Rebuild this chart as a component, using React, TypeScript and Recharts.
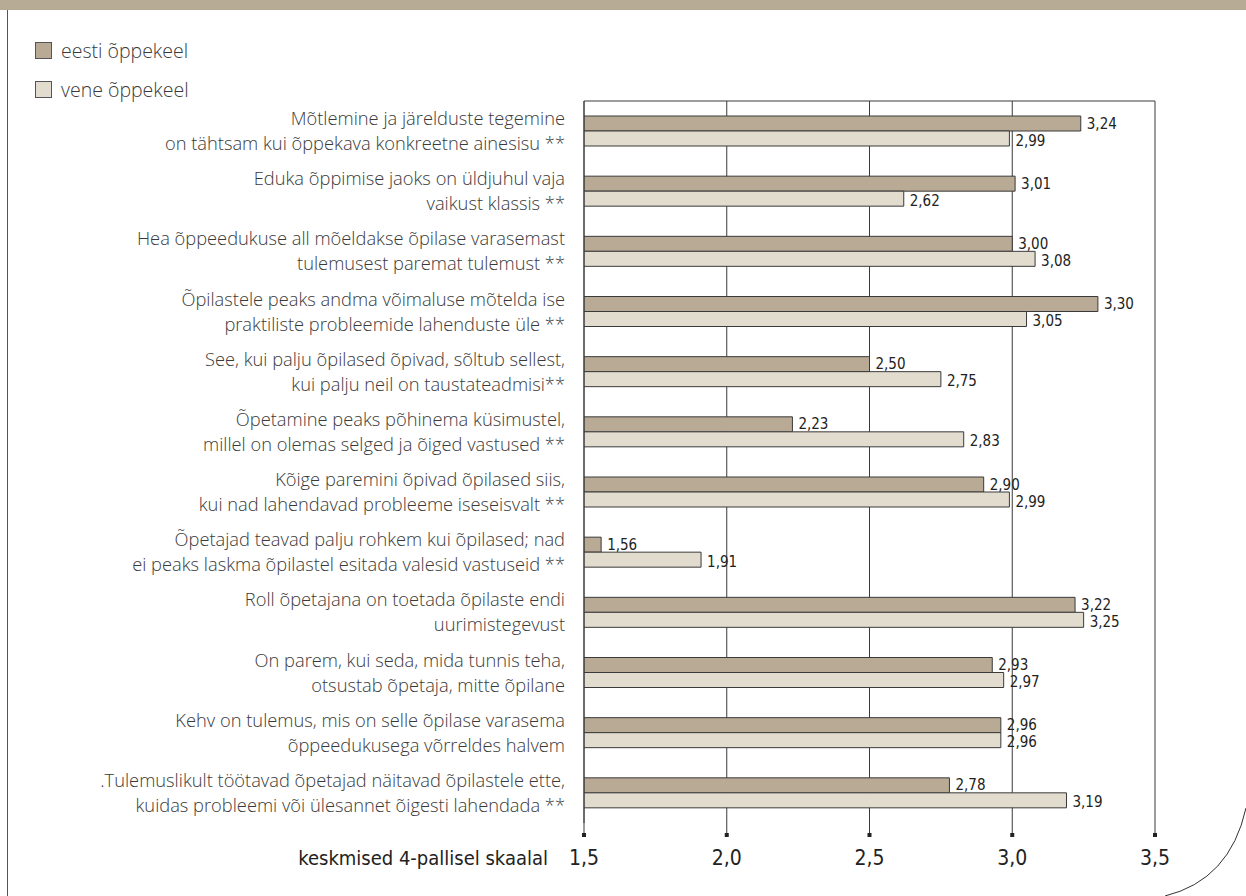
import { BarChart, Bar, XAxis, YAxis, CartesianGrid, LabelList } from "recharts"

const categories = [
  "Mõtlemine ja järelduste tegemine|on tähtsam kui õppekava konkreetne ainesisu **",
  "Eduka õppimise jaoks on üldjuhul vaja|vaikust klassis **",
  "Hea õppeedukuse all mõeldakse õpilase varasemast|tulemusest paremat tulemust **",
  "Õpilastele peaks andma võimaluse mõtelda ise|praktiliste probleemide lahenduste üle **",
  "See, kui palju õpilased õpivad, sõltub sellest,|kui palju neil on taustateadmisi**",
  "Õpetamine peaks põhinema küsimustel,|millel on olemas selged ja õiged vastused **",
  "Kõige paremini õpivad õpilased siis,|kui nad lahendavad probleeme iseseisvalt **",
  "Õpetajad teavad palju rohkem kui õpilased; nad|ei peaks laskma õpilastel esitada valesid vastuseid **",
  "Roll õpetajana on toetada õpilaste endi|uurimistegevust",
  "On parem, kui seda, mida tunnis teha,|otsustab õpetaja, mitte õpilane",
  "Kehv on tulemus, mis on selle õpilase varasema|õppeedukusega võrreldes halvem",
  ".Tulemuslikult töötavad õpetajad näitavad õpilastele ette,|kuidas probleemi või ülesannet õigesti lahendada **",
]

const eesti = [3.24, 3.01, 3.0, 3.3, 2.5, 2.23, 2.9, 1.56, 3.22, 2.93, 2.96, 2.78]
const vene = [2.99, 2.62, 3.08, 3.05, 2.75, 2.83, 2.99, 1.91, 3.25, 2.97, 2.96, 3.19]

const xTicks = [1.5, 2.0, 2.5, 3.0, 3.5]

const seriesNames = ["eesti õppekeel", "vene õppekeel"]

const data = categories.map((name, i) => ({ name, eesti: eesti[i], vene: vene[i] }))

const COL_EESTI = "#b8aa94"
const COL_VENE = "#e2dccf"
const LINE = "#3a3a3a"
const TEXT = "#3a3a3a"
const LABEL_FONT = "'Open Sans', 'Noto Sans', sans-serif"
const NARROW_FONT = "'Liberation Sans Narrow', 'DejaVu Sans Condensed', 'Roboto', sans-serif"

const fmt = (v: number) => v.toFixed(2).replace(".", ",")

// two-line category label, right aligned against the axis
function CategoryTick(props: any) {
  const { x, y, payload } = props
  const lines = String(payload.value).split("|")
  return (
    <text x={x} y={y - 6} textAnchor="end" fontFamily={LABEL_FONT} fontWeight={300} fontSize={18.3} fill={TEXT}>
      <tspan x={x} dy={0}>{lines[0]}</tspan>
      <tspan x={x} dy={25}>{lines[1]}</tspan>
    </text>
  )
}

function ValueTick(props: any) {
  const { x, y, payload } = props
  return (
    <g>
      <rect x={x - 2} y={y - 2} width={4} height={4} fill="#222" />
      <text x={x} y={y + 23} textAnchor="middle" dominantBaseline="central" fontFamily={NARROW_FONT} fontSize={21} fill="#222">
        {String(payload.value.toFixed(1)).replace(".", ",")}
      </text>
    </g>
  )
}

function AxisTitle(props: any) {
  const { viewBox } = props
  return (
    <text x={viewBox.x - 36} y={viewBox.y + 35} textAnchor="end" dominantBaseline="central" fontFamily={NARROW_FONT} fontSize={20} fill="#222">
      keskmised 4-pallisel skaalal
    </text>
  )
}

function makeValueLabel(dy: number) {
  return (props: any) => {
    const { x, y, width, height, value } = props
    return (
      <text x={x + width + 6} y={y + height / 2 + dy} dominantBaseline="central" fontFamily={NARROW_FONT} fontSize={15} fill="#222">
        {fmt(value)}
      </text>
    )
  }
}

function LegendBox() {
  const cols = [COL_EESTI, COL_VENE]
  return (
    <div style={{ position: "absolute", left: 35, top: 31, fontFamily: LABEL_FONT, fontWeight: 300, fontSize: 19.5, color: TEXT }}>
      {seriesNames.map((n, i) => (
        <div key={n} style={{ display: "flex", alignItems: "center", height: 39 }}>
          <span style={{ display: "inline-block", width: 15, height: 15, background: cols[i], border: "1px solid #555", marginRight: 9 }} />
          <span>{n}</span>
        </div>
      ))}
    </div>
  )
}

export default function App() {
  return (
    <div style={{ position: "absolute", left: 0, top: 0, width: 1246, height: 896, background: "#fff", overflow: "hidden" }}>
      <div style={{ position: "absolute", left: 0, top: 0, width: 1246, height: 10, background: "#b8ab95" }} />
      <div style={{ position: "absolute", left: 7, top: 10, width: 1, height: 886, background: "#555" }} />
      <BarChart
        width={1246}
        height={896}
        data={data}
        layout="vertical"
        margin={{ top: 100, right: 91, left: 0, bottom: 13 }}
        barSize={15}
        barGap={0}
      >
        <CartesianGrid horizontal={false} stroke={LINE} strokeWidth={1} />
        <XAxis
          type="number"
          domain={[1.5, 3.5]}
          ticks={xTicks}
          height={60}
          axisLine={false}
          tickLine={{ stroke: LINE }}
          tickSize={12}
          tickMargin={0}
          tick={<ValueTick />}
          interval={0}
          label={{ content: <AxisTitle /> }}
          allowDataOverflow
        />
        <XAxis xAxisId="top" orientation="top" type="number" domain={[1.5, 3.5]} height={1} tick={false} tickLine={false} axisLine={{ stroke: LINE }} />
        <YAxis
          type="category"
          dataKey="name"
          width={584}
          axisLine={{ stroke: LINE }}
          tickLine={false}
          tickSize={0}
          tickMargin={19}
          tick={<CategoryTick />}
          interval={0}
        />
        <Bar dataKey="eesti" name={seriesNames[0]} fill={COL_EESTI} stroke={LINE} strokeWidth={1} isAnimationActive={false}>
          <LabelList dataKey="eesti" content={makeValueLabel(0)} />
        </Bar>
        <Bar dataKey="vene" name={seriesNames[1]} fill={COL_VENE} stroke={LINE} strokeWidth={1} isAnimationActive={false}>
          <LabelList dataKey="vene" content={makeValueLabel(2)} />
        </Bar>
      </BarChart>
      <LegendBox />
      <svg width={1246} height={896} style={{ position: "absolute", left: 0, top: 0, pointerEvents: "none" }}>
        <path d="M1246,808 Q1230,880 1165,896" fill="none" stroke="#333" strokeWidth={1} />
      </svg>
    </div>
  )
}
